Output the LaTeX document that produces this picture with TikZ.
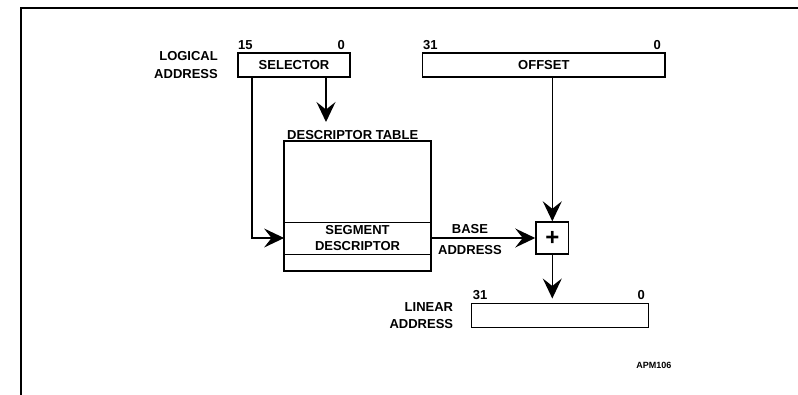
\documentclass[tikz,border=0pt]{standalone}
\usepackage{fontspec}
\setmainfont{Liberation Sans}
\usetikzlibrary{arrows.meta}
\begin{document}
\begin{tikzpicture}[x=1pt,y=-1pt,
  lbl/.style={font=\fontsize{13}{15}\selectfont\bfseries, inner sep=0pt},
  small/.style={font=\fontsize{9}{10}\selectfont\bfseries, inner sep=0pt},
  reg/.style={draw, line width=1.4pt, inner sep=0pt, font=\fontsize{13}{15}\selectfont\bfseries},
  conn/.style={line width=1.4pt, -{Stealth[length=20pt,width=19pt,inset=7.5pt]}},
  plain/.style={line width=1.4pt}]
\useasboundingbox (0,0) rectangle (798,394);
\draw[line width=2pt] (800,8.3) -- (21,8.3) -- (21,396);
% logical address
\node[lbl, align=right, anchor=east] (la) at (218,64.8) {LOGICAL\\[3.5pt]ADDRESS};
\node[reg, minimum width=112pt, minimum height=24pt] (sel) at (294,65) {SELECTOR};
\node[lbl, anchor=west] (s15) at (238,45.5) {15};
\node[lbl, anchor=east] (s0) at (345,45.5) {0};
\node[reg, minimum width=242.3pt, minimum height=24pt] (off) at (543.85,65) {OFFSET};
\node[lbl, anchor=west] (o31) at (423,45.5) {31};
\node[lbl, anchor=east] (o0) at (661,45.5) {0};
% descriptor table
\node[lbl, anchor=west] (dtl) at (287,135) {DESCRIPTOR TABLE};
\node[draw, line width=1.4pt, minimum width=146pt, minimum height=129pt, inner sep=0pt] (tab) at (357.5,206.2) {};
\node[draw, line width=0.8pt, minimum width=146pt, minimum height=32pt, inner sep=0pt, align=center, font=\fontsize{13}{15}\selectfont\bfseries] (seg) at (357.5,238) {SEGMENT\\[1.7pt]DESCRIPTOR};
\draw[line width=1.4pt] (tab.north west) rectangle (tab.south east);
% adder
\node[reg, minimum width=32.7pt, minimum height=32pt, font=\fontsize{24}{26}\selectfont\bfseries] (plus) at (552.3,238) {+};
\node[lbl, align=center] (ba) at (470,239.6) {BASE\\[6.3pt]ADDRESS};
% linear address
\node[reg, minimum width=176.6pt, minimum height=24pt] (lin) at (560,315.7) {};
\node[lbl, anchor=west] (l31) at (472.7,295.3) {31};
\node[lbl, anchor=east] (l0) at (645,295.3) {0};
\node[lbl, align=right, anchor=east] (lal) at (453.3,315.4) {LINEAR\\[1.7pt]ADDRESS};
\node[small] (apm) at (653.8,365.8) {APM106};
% connectors
\coordinate (selL) at (252,77);
\coordinate (selR) at (326,77);
\coordinate (dtip) at (326,122);
\draw[conn] (selL) |- (seg.west);
\draw[conn] (selR) -- (dtip);
\draw[conn] (off.south -| plus.north) -- (plus.north);
\draw[conn] (seg.east) -- (plus.west);
\draw[conn, shorten >=4.5pt] (plus.south) -- (plus.south |- lin.north);
\end{tikzpicture}
\end{document}
